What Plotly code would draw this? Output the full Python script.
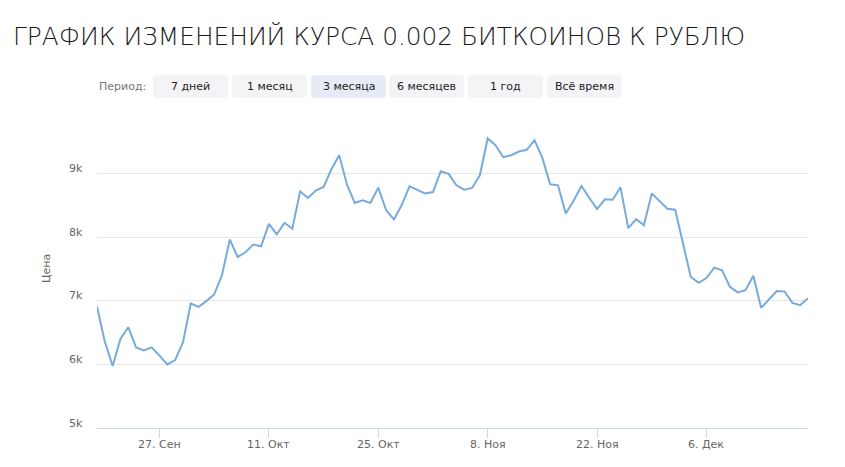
import pandas as pd
import plotly.graph_objects as go

# ---- data ----
start_date = "2018-09-19"
prices = [
    6910, 6358, 5974, 6400, 6584, 6268, 6221, 6268, 6137, 6000,
    6068, 6347, 6958, 6905, 6995, 7100, 7405, 7963, 7689, 7763,
    7884, 7858, 8210, 8047, 8226, 8132, 8721, 8616, 8732, 8789,
    9068, 9289, 8826, 8537, 8579, 8537, 8779, 8426, 8279, 8505,
    8800, 8747, 8689, 8710, 9037, 8995, 8816, 8747, 8774, 8974,
    9553, 9447, 9258, 9289, 9347, 9374, 9526, 9247, 8832, 8816,
    8374, 8574, 8805, 8621, 8442, 8595, 8589, 8784, 8142, 8284,
    8189, 8689, 8574, 8447, 8432, 7905, 7374, 7284, 7358, 7521,
    7479, 7221, 7132, 7168, 7395, 6889, 7021, 7153, 7147, 6968,
    6932, 7042,
]
dates = pd.date_range(start_date, periods=len(prices), freq="D")

x_tick_dates = ["2018-09-27", "2018-10-11", "2018-10-25", "2018-11-08", "2018-11-22", "2018-12-06"]
x_tick_labels = ["27. Сен", "11. Окт", "25. Окт", "8. Ноя", "22. Ноя", "6. Дек"]
y_tick_vals = [5000, 6000, 7000, 8000, 9000, 10000]
y_tick_labels = ["5k", "6k", "7k", "8k", "9k", ""]

title_text = "ГРАФИК ИЗМЕНЕНИЙ КУРСА 0.002 БИТКОИНОВ К РУБЛЮ"
period_label = "Период:"
period_buttons = ["7 дней", "1 месяц", "3 месяца", "6 месяцев", "1 год", "Всё время"]
selected_button = "3 месяца"

# ---- geometry (pixels) ----
W, H = 845, 467
L, R, T, B = 97, 37, 110, 39
PW, PH = W - L - R, H - T - B


def px(xp):
    return (xp - L) / PW


def py(yp):
    return (H - B - yp) / PH


fig = go.Figure()
fig.add_trace(go.Scatter(
    x=dates, y=prices, mode="lines",
    line=dict(color="#77abdc", width=2),
    hoverinfo="skip", showlegend=False,
))

font_main = "DejaVu Sans"

annotations = []
shapes = []

# title
annotations.append(dict(
    text=title_text, xref="paper", yref="paper", x=px(11), y=py(36),
    xanchor="left", yanchor="middle", showarrow=False,
    font=dict(family=font_main, size=24.8, color="#1a1a1a", weight=300),
))

# period label
annotations.append(dict(
    text=period_label, xref="paper", yref="paper", x=px(97), y=py(87),
    xanchor="left", yanchor="middle", showarrow=False,
    font=dict(family=font_main, size=11, color="#777777"),
))

btn_x0 = [153, 232, 311, 389, 468, 547]
btn_w = 75
btn_y0, btn_y1 = 75, 98
r = 4


def rrect(x0, y0, x1, y1, rad):
    ax, ay = rad / PW, rad / PH
    X0, X1 = px(x0), px(x1)
    Y0, Y1 = py(y1), py(y0)  # Y0 bottom, Y1 top (paper)
    return (f"M {X0+ax},{Y0} L {X1-ax},{Y0} Q {X1},{Y0} {X1},{Y0+ay} "
            f"L {X1},{Y1-ay} Q {X1},{Y1} {X1-ax},{Y1} L {X0+ax},{Y1} "
            f"Q {X0},{Y1} {X0},{Y1-ay} L {X0},{Y0+ay} Q {X0},{Y0} {X0+ax},{Y0} Z")


for lbl, x0 in zip(period_buttons, btn_x0):
    sel = lbl == selected_button
    shapes.append(dict(
        type="path", xref="paper", yref="paper",
        path=rrect(x0, btn_y0, x0 + btn_w, btn_y1, r),
        fillcolor="#e6ebf5" if sel else "#f4f4f6", line=dict(width=0), layer="below",
    ))
    annotations.append(dict(
        text=lbl, xref="paper", yref="paper", x=px(x0 + btn_w / 2), y=py((btn_y0 + btn_y1) / 2),
        xanchor="center", yanchor="middle", showarrow=False,
        font=dict(family=font_main, size=11, color="#222222"),
    ))

# y tick labels as annotations (slightly above grid lines)
for v, t in zip(y_tick_vals, y_tick_labels):
    if t:
        annotations.append(dict(
            text=t, xref="paper", yref="y", x=0, y=v, xanchor="right", yanchor="middle",
            xshift=-12, yshift=5, showarrow=False,
            font=dict(family=font_main, size=11, color="#666666"),
        ))

# x tick labels as annotations
for d, t in zip(pd.to_datetime(x_tick_dates), x_tick_labels):
    annotations.append(dict(
        text=t, xref="x", yref="paper", x=d, y=py(444), xanchor="center", yanchor="middle",
        showarrow=False, font=dict(family=font_main, size=11, color="#666666"),
    ))

# y axis title
annotations.append(dict(
    text="Цена", xref="paper", yref="paper", x=px(46), y=0.5,
    xanchor="center", yanchor="middle", textangle=-90, showarrow=False,
    font=dict(family=font_main, size=11, color="#666666"),
))

fig.update_layout(
    width=W, height=H,
    margin=dict(l=L, r=R, t=T, b=B, pad=0),
    paper_bgcolor="white", plot_bgcolor="white",
    annotations=annotations, shapes=shapes,
    xaxis=dict(
        range=[dates[0], dates[-1]],
        tickvals=pd.to_datetime(x_tick_dates), showticklabels=False,
        showgrid=False, zeroline=False,
        showline=True, linecolor="#ccd6eb", linewidth=1,
        ticks="outside", ticklen=9, tickcolor="#ccd6eb", tickwidth=1,
    ),
    yaxis=dict(
        range=[5000, 10000], tickvals=y_tick_vals, showticklabels=False,
        showgrid=True, gridcolor="#e6e6e6", gridwidth=1, zeroline=False,
        showline=False,
    ),
)

fig.write_html(
    "out.html",
    config={"displayModeBar": False},
    post_script="document.body.style.margin='0';document.body.style.padding='0';",
)
